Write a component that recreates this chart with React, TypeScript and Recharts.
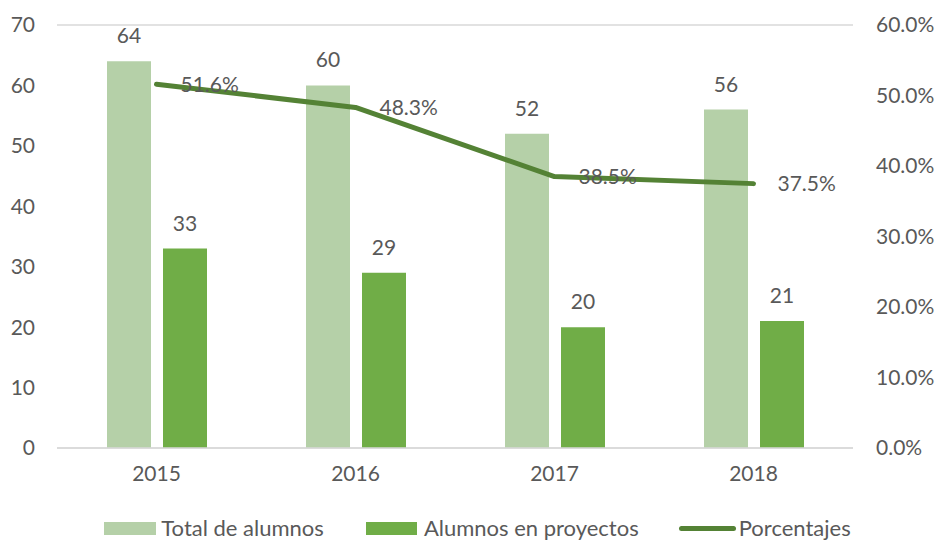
import React from 'react';
import { ComposedChart, Bar, Line, XAxis, YAxis, CartesianGrid, Legend, LabelList } from 'recharts';

const years = ['2015', '2016', '2017', '2018'];
const totalAlumnos = [64, 60, 52, 56];
const alumnosProyectos = [33, 29, 20, 21];
const porcentajes = [51.6, 48.3, 38.5, 37.5];
const leftTicks = [0, 10, 20, 30, 40, 50, 60, 70];
const rightTicks = [0, 10, 20, 30, 40, 50, 60];

const data = years.map((y, i) => ({
  year: y,
  total: totalAlumnos[i],
  proyectos: alumnosProyectos[i],
  pct: porcentajes[i],
}));

const FONT = 'Lato, "Liberation Sans", sans-serif';
const TEXT = '#595959';
const C_LIGHT = '#B5D0A8';
const C_DARK = '#70AD47';
const C_LINE = '#548235';

const renderLegend = () => (
  <div style={{ display: 'flex', justifyContent: 'center', alignItems: 'center', fontFamily: FONT, fontSize: 22, lineHeight: '22px', color: TEXT, paddingLeft: 18, paddingTop: 7 }}>
    <span style={{ display: 'inline-block', width: 52, height: 13, background: C_LIGHT, marginRight: 5 }} />
    <span style={{ marginRight: 42 }}>Total de alumnos</span>
    <span style={{ display: 'inline-block', width: 51, height: 13, background: C_DARK, marginRight: 7 }} />
    <span style={{ marginRight: 40 }}>Alumnos en proyectos</span>
    <span style={{ display: 'inline-block', width: 57, height: 5, borderRadius: 3, background: C_LINE, marginRight: 3 }} />
    <span>Porcentajes</span>
  </div>
);

export default function App() {
  return (
    <div style={{ position: 'absolute', left: 0, top: 0, width: 937, height: 543, background: '#fff' }}>
      <ComposedChart
        width={937}
        height={543}
        data={data}
        margin={{ top: 25, right: 0, bottom: 2, left: 0 }}
        barGap={12}
      >
        <CartesianGrid vertical={false} stroke="#D9D9D9" strokeWidth={1.5} />
        <XAxis
          dataKey="year"
          axisLine={{ stroke: '#D9D9D9', strokeWidth: 1.5 }}
          tickLine={false}
          tick={{ fill: TEXT, fontSize: 21, fontFamily: FONT }}
          tickMargin={12}
          height={62}
        />
        <YAxis
          yAxisId="left"
          domain={[0, 70]}
          ticks={leftTicks}
          width={57}
          axisLine={false}
          tickLine={false}
          tickMargin={16}
          tick={{ fill: TEXT, fontSize: 21, fontFamily: FONT }}
        />
        <YAxis
          yAxisId="right"
          orientation="right"
          domain={[0, 60]}
          ticks={rightTicks}
          width={84}
          axisLine={false}
          tickLine={false}
          tickMargin={17}
          tickFormatter={(v: number) => `${v.toFixed(1)}%`}
          tick={{ fill: TEXT, fontSize: 21, fontFamily: FONT }}
        />
        <Legend verticalAlign="bottom" height={31} content={renderLegend} />
        <Bar yAxisId="left" dataKey="total" name="Total de alumnos" fill={C_LIGHT} barSize={44} isAnimationActive={false}>
          <LabelList dataKey="total" position="top" offset={18} fill={TEXT} fontSize={21} fontFamily={FONT} />
        </Bar>
        <Bar yAxisId="left" dataKey="proyectos" name="Alumnos en proyectos" fill={C_DARK} barSize={44} isAnimationActive={false}>
          <LabelList dataKey="proyectos" position="top" offset={18} fill={TEXT} fontSize={21} fontFamily={FONT} />
        </Bar>
        <Line
          yAxisId="right"
          dataKey="pct"
          name="Porcentajes"
          stroke={C_LINE}
          strokeWidth={5}
          strokeLinecap="round"
          strokeLinejoin="round"
          dot={false}
          activeDot={false}
          type="linear"
          isAnimationActive={false}
        >
          <LabelList
            dataKey="pct"
            position="right"
            offset={24}
            fill={TEXT}
            fontSize={21}
            fontFamily={FONT}
            formatter={(v: number) => `${v.toFixed(1)}%`}
          />
        </Line>
      </ComposedChart>
    </div>
  );
}
